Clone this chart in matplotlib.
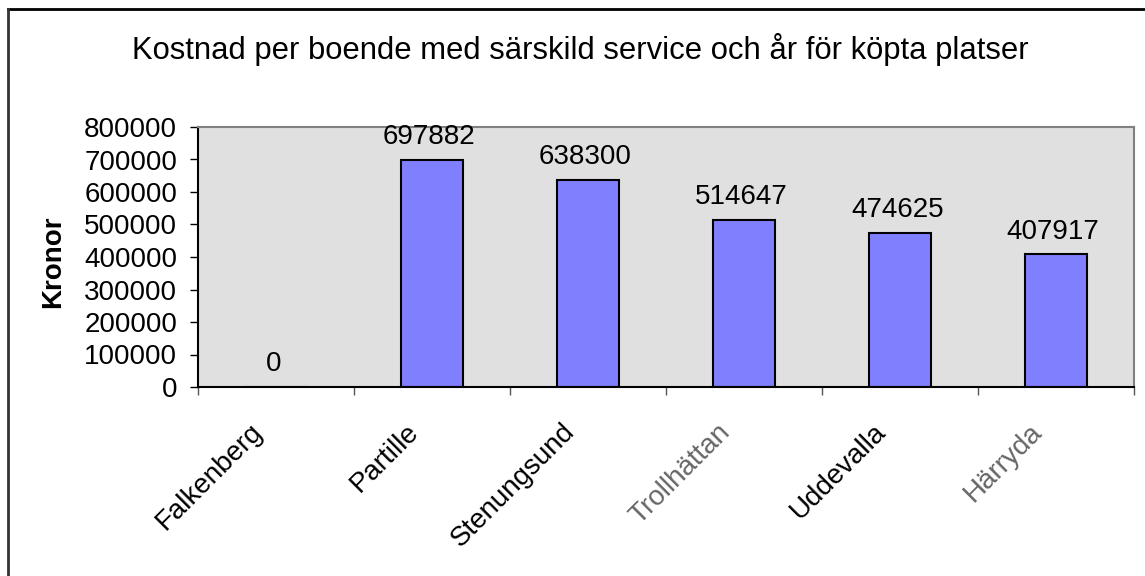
import matplotlib
matplotlib.use("Agg")
import matplotlib.pyplot as plt
from matplotlib.lines import Line2D
import numpy as np

TITLE = "Kostnad per boende med särskild service och år för köpta platser"
CITIES = ["Falkenberg", "Partille", "Stenungsund", "Trollhättan", "Uddevalla", "Härryda"]
COSTS = [0, 697882, 638300, 514647, 474625, 407917]
# two labels look washed out in the original
LABEL_COLORS = ["black", "black", "black", "#666666", "black", "#666666"]
Y_TICKS = [0, 100000, 200000, 300000, 400000, 500000, 600000, 700000, 800000]

BAR_COLOR = "#8080FF"
PLOT_BG = "#E0E0E0"

plt.rcParams["font.family"] = ["Liberation Sans", "DejaVu Sans"]

fig = plt.figure(figsize=(11.45, 5.76), dpi=100)
ax = fig.add_axes([198 / 1145, 1 - 387 / 576, (1134 - 198) / 1145, (387 - 127) / 576])
ax.set_facecolor(PLOT_BG)

x = np.arange(len(CITIES))
ax.bar(x, COSTS, width=0.4, color=BAR_COLOR, edgecolor="black", linewidth=1.5, zorder=2)
for xi, v in zip(x, COSTS):
    ax.annotate(str(v), (xi, v), xytext=(-2, 7), textcoords="offset points",
                ha="center", va="bottom", fontsize=20)

ax.set_xlim(-0.5, len(CITIES) - 0.5)
ax.set_ylim(0, 800000)
ax.set_yticks(Y_TICKS, [str(t) for t in Y_TICKS], fontsize=20)
ax.tick_params(axis="y", length=6, width=1, direction="out", pad=9)

# category labels, rotated, baseline ending left of and below each category centre
ax.set_xticks([])
for xi, name, c in zip(x, CITIES, LABEL_COLORS):
    ax.annotate(name, (xi, 0), xycoords=ax.get_xaxis_transform(),
                xytext=(-9, -33), textcoords="offset points",
                rotation=45, ha="right", va="baseline", rotation_mode="anchor",
                fontsize=20, color=c)
ax.set_xticks(np.arange(len(CITIES) + 1) - 0.5, minor=True)
ax.tick_params(axis="x", which="minor", length=6, width=1, color="#555555")

ax.set_ylabel("Kronor", fontsize=20, fontweight="bold")
ax.yaxis.set_label_coords((66 - 198) / 936, 0.48)

for side in ("left", "bottom"):
    ax.spines[side].set_color("black")
    ax.spines[side].set_linewidth(1.5)
for side in ("top", "right"):
    ax.spines[side].set_color("#808080")
    ax.spines[side].set_linewidth(1.5)

fig.text(580 / 1145, 1 - 50 / 576, TITLE, ha="center", va="center", fontsize=22.3)

# outer chart border (only top and left edges fall inside the image)
fig.add_artist(Line2D([8 / 1145, 1.0], [1 - 9 / 576, 1 - 9 / 576], color="black", linewidth=2))
fig.add_artist(Line2D([8 / 1145, 8 / 1145], [0.0, 1 - 9 / 576], color="#333333", linewidth=2))

fig.savefig("out.png", dpi=100)
